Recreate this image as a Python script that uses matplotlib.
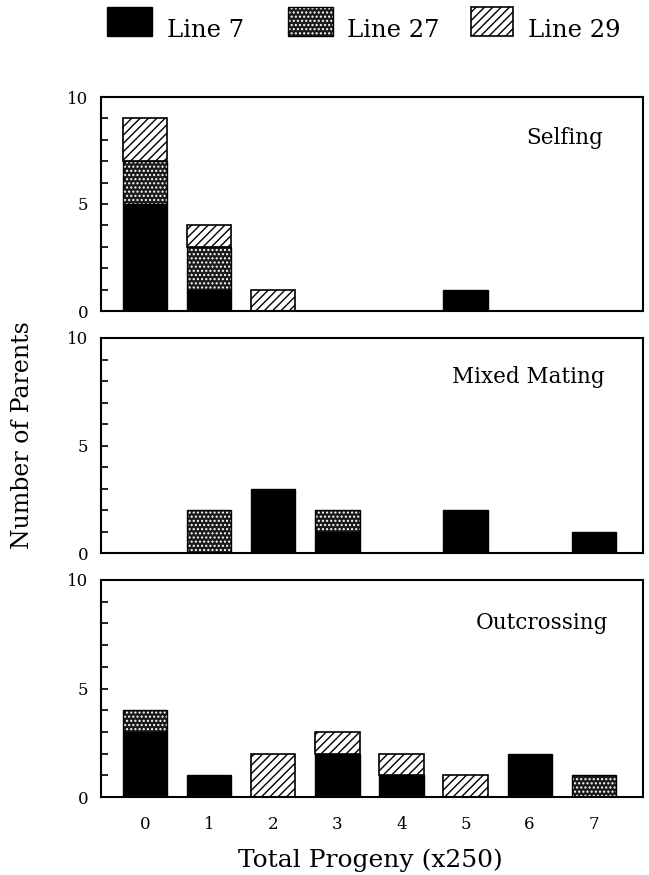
import matplotlib
matplotlib.use("Agg")
import matplotlib.pyplot as plt
from matplotlib.patches import Rectangle
import numpy as np

plt.rcParams['font.family'] = ['DejaVu Serif', 'Liberation Serif']
plt.rcParams['hatch.linewidth'] = 1.0

categories = [0, 1, 2, 3, 4, 5, 6, 7]
tick_labels = ['0', '1', '2', '3', '4', '5', '6', '7']
series_names = ['Line 7', 'Line 27', 'Line 29']
panel_names = ['Selfing', 'Mixed Mating', 'Outcrossing']

selfing_line7 = [5, 1, 0, 0, 0, 1, 0, 0]
selfing_line27 = [2, 2, 0, 0, 0, 0, 0, 0]
selfing_line29 = [2, 1, 1, 0, 0, 0, 0, 0]

mixed_line7 = [0, 0, 3, 1, 0, 2, 0, 1]
mixed_line27 = [0, 2, 0, 1, 0, 0, 0, 0]
mixed_line29 = [0, 0, 0, 0, 0, 0, 0, 0]

out_line7 = [3, 1, 0, 2, 1, 0, 2, 0]
out_line27 = [1, 0, 0, 0, 0, 0, 0, 1]
out_line29 = [0, 0, 2, 1, 1, 1, 0, 0]

panels = [
    (selfing_line7, selfing_line27, selfing_line29),
    (mixed_line7, mixed_line27, mixed_line29),
    (out_line7, out_line27, out_line29),
]

W, H = 649, 875
fig = plt.figure(figsize=(W / 100, H / 100), dpi=100)

boxes = [(101, 97, 643, 311), (101, 338, 643, 553), (101, 580, 643, 797)]
text_pos = [(0.926, 0.81), (0.93, 0.82), (0.936, 0.80)]

width = 0.69
STIPPLE_FACE = '#1a1a1a'


def draw_stack(ax, x, l7, l27, l29):
    x = np.array(x, dtype=float)
    l7 = np.array(l7, dtype=float)
    l27 = np.array(l27, dtype=float)
    l29 = np.array(l29, dtype=float)
    m = l7 > 0
    ax.bar(x[m], l7[m], width, color='black', edgecolor='black', linewidth=1.0, zorder=2)
    m = l27 > 0
    ax.bar(x[m], l27[m], width, bottom=l7[m], color=STIPPLE_FACE, edgecolor='white',
           hatch='....', linewidth=0, zorder=2)
    ax.bar(x[m], l27[m], width, bottom=l7[m], fill=False, edgecolor='black',
           linewidth=1.0, zorder=3)
    m = l29 > 0
    ax.bar(x[m], l29[m], width, bottom=(l7 + l27)[m], color='white', edgecolor='black',
           hatch='////', linewidth=1.2, zorder=2)


for i, ((l7, l27, l29), (x0, y0, x1, y1)) in enumerate(zip(panels, boxes)):
    ax = fig.add_axes([x0 / W, 1 - y1 / H, (x1 - x0) / W, (y1 - y0) / H])
    draw_stack(ax, categories, l7, l27, l29)
    ax.set_xlim(-0.69, 7.77)
    ax.set_ylim(0, 10)
    ax.set_yticks([0, 5, 10])
    ax.set_yticklabels(['0', '5', '10'], fontsize=12)
    ax.set_yticks(range(0, 11), minor=True)
    ax.tick_params(axis='y', which='both', direction='in', length=5, width=1.2,
                   left=True, right=False, pad=9)
    ax.tick_params(axis='x', which='both', length=0)
    if i == 2:
        ax.set_xticks(categories)
        ax.set_xticklabels(tick_labels, fontsize=12)
        ax.tick_params(axis='x', pad=14)
    else:
        ax.set_xticks([])
    for s in ax.spines.values():
        s.set_linewidth(1.5)
    tx, ty = text_pos[i]
    ax.text(tx, ty, panel_names[i], transform=ax.transAxes, fontsize=15.5,
            ha='right', va='center')

fig.text(23 / W, 1 - 435 / H, 'Number of Parents', rotation=90, fontsize=17,
         ha='center', va='center')
fig.text(370 / W, 1 - 860 / H, 'Total Progeny (x250)', fontsize=18,
         ha='center', va='center')

# legend drawn in figure pixel space
lax = fig.add_axes([0, 0, 1, 1], zorder=-1)
lax.set_xlim(0, W)
lax.set_ylim(H, 0)
lax.axis('off')
patch_x = [107, 288, 471]
patch_w = [45, 45, 42]
text_x = [167, 347, 528]
styles = [
    dict(facecolor='black', edgecolor='black', linewidth=1.0),
    dict(facecolor=STIPPLE_FACE, edgecolor='white', hatch='....', linewidth=0),
    dict(facecolor='white', edgecolor='black', hatch='////', linewidth=1.2),
]
for px, pw, tx, st, name in zip(patch_x, patch_w, text_x, styles, series_names):
    lax.add_patch(Rectangle((px, 7), pw, 29, **st))
    if st.get('hatch') == '....':
        lax.add_patch(Rectangle((px, 7), pw, 29, fill=False, edgecolor='black', linewidth=1.0))
    lax.text(tx, 37, name, fontsize=17.5, ha='left', va='baseline')

fig.savefig('out.png', dpi=100)
